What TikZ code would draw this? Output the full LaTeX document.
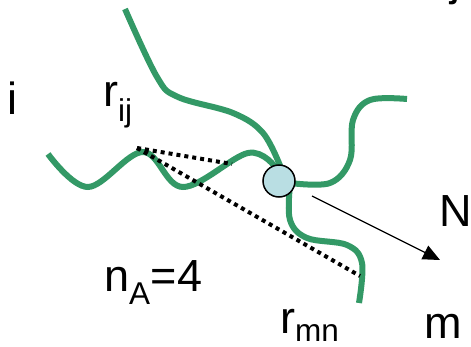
\documentclass[tikz,border=0pt]{standalone}
\usepackage{fontspec}
\setmainfont{Liberation Sans}
\usetikzlibrary{arrows.meta}
\definecolor{armgreen}{HTML}{339966}
\definecolor{hubblue}{HTML}{B9DEE3}

\begin{document}
\begin{tikzpicture}[x=1pt,y=-1pt,font=\fontsize{45}{54}\selectfont,
    arm/.style={armgreen,line width=6pt},
    span/.style={line width=4pt,dash pattern=on 4pt off 4pt},
    lbl/.style={anchor=base west,inner sep=0pt}]
  \useasboundingbox (0,0) rectangle (471,347);

  % The four arms of the star, all meeting at the hub.
  \draw[arm] plot[smooth,tension=0.6] coordinates {(125,9) (157,77) (178,97) (233,113) (263,133) (281,168)};
  \draw[arm] plot[smooth,tension=0.6] coordinates {(48,154) (88,187) (143,152) (183,187) (248,153) (276,168)};
  \draw[arm] plot[smooth,tension=0.6] coordinates {(290,183) (330,183) (350,160) (353,120) (370,100) (407,99)};
  \draw[arm] plot[smooth,tension=0.6] coordinates {(290,185) (290,220) (307,238) (347,245) (362,263) (359,303)};
  \node[circle,draw,line width=1.5pt,fill=hubblue,minimum size=32pt,inner sep=0pt] (hub) at (279,181) {};

  % End-to-end spans of a chain piece.
  \coordinate (start) at (137,148);
  \coordinate (nearend) at (232,164);
  \coordinate (farend) at (360,276);
  \draw[span] (start) -- (nearend);
  \draw[span] (start) -- (farend);

  % Direction of the normal.
  \coordinate (tail) at (312,196);
  \coordinate (head) at (440,260);
  \draw[line width=1.3pt,-{Triangle[length=17pt,width=15pt]}] (tail) -- (head);

  \node[lbl] (labi) at (7,115) {i};
  \node[lbl] (labrij) at (103,107) {r\textsubscript{ij}};
  \node[lbl] (labna) at (104,291) {n\textsubscript{A}=4};
  \node[lbl] (labrmn) at (280,333) {r\textsubscript{mn}};
  \node[lbl] (labm) at (424,338) {m};
  \node[lbl] (labn) at (439,227) {N};
  \node[lbl] (labcut) at (450,-4) {j};
\end{tikzpicture}
\end{document}
